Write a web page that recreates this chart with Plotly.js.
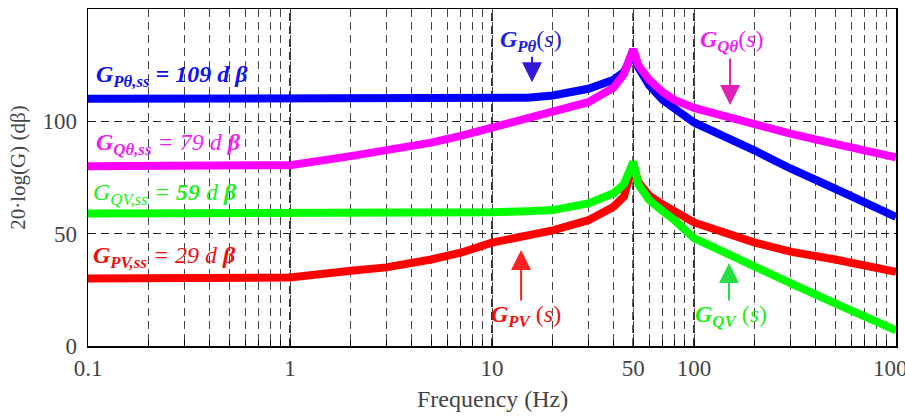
<!DOCTYPE html>
<html>
<head>
<meta charset="utf-8">
<script src="https://cdn.plot.ly/plotly-3.0.1.min.js"></script>
<style>html,body{margin:0;padding:0;background:#fff;}</style>
</head>
<body>
<div id="chart" style="width:905px;height:420px;"></div>
<script>
// Frequency points (Hz) and magnitude responses (dB)
const freq    = [0.1, 0.5, 1, 2, 3, 5, 7, 10, 15, 20, 30, 40, 45, 48, 50, 53, 60, 70, 80, 100, 200, 300, 500, 700, 1000];
const gPTheta = [110, 110, 110, 110, 110, 110, 110, 110, 110.5, 111.5, 114.5, 118.5, 122, 127, 132, 124, 116, 109.5, 105.5, 99.5, 87, 79, 70, 64, 57.5];
const gQTheta = [80, 80, 80.5, 84.5, 87, 90.5, 93.5, 97, 101, 104, 108.5, 115, 121, 128, 132, 125, 118.5, 113, 109.5, 106, 98.5, 94.5, 90, 87, 84];
const gPV     = [30, 30, 30.5, 33.5, 35, 38.5, 41.5, 46, 49.5, 51.5, 56, 62, 66.5, 75.5, 81, 73, 67, 63, 60, 55, 46, 42, 38.5, 36, 33];
const gQV     = [59, 59, 59, 59, 59, 59, 59, 59.5, 60, 60.5, 63.5, 68, 72, 77, 82, 72, 65, 60, 56, 48, 35, 28, 19, 13, 7];

// Axis ticks and titles
const decades = [0.1, 1, 10, 100];
const labeledTicks = [0.1, 1, 10, 50, 100, 1000];
const labeledText  = ['0.1', '1', '10', '50', '100', '1000'];
const yTicks = [0, 50, 100, 150];
const xTitle = 'Frequency (Hz)';
const yTitle = '20·log(G) (dβ)';

// Every 1..9 multiple within each decade gets a dashed grid line
const allTicks = [];
decades.forEach(d => { for (let m = 1; m <= 9; m++) allTicks.push(+(d * m).toPrecision(3)); });
allTicks.push(1000);
const allText = allTicks.map(v => {
  const i = labeledTicks.indexOf(v);
  return i >= 0 ? labeledText[i] : '';
});

const serif = '"Liberation Serif", "Times New Roman", serif';
const sp = '\u00a0';

const traceStyle = (color) => ({ color: color, width: 8 });
const traces = [
  { x: freq, y: gPV,     mode: 'lines', line: traceStyle('#ff0000'), name: 'G_PV' },
  { x: freq, y: gQV,     mode: 'lines', line: traceStyle('#00ff00'), name: 'G_QV' },
  { x: freq, y: gPTheta, mode: 'lines', line: traceStyle('#0000ff'), name: 'G_Pθ' },
  { x: freq, y: gQTheta, mode: 'lines', line: traceStyle('#ff00ff'), name: 'G_Qθ' }
];

// Darker dashed lines at the labelled frequencies
const majorLines = labeledTicks.filter(v => v > 0.1 && v < 1000).map(v => ({
  type: 'line', xref: 'x', yref: 'paper', x0: v, x1: v, y0: 0, y1: 1,
  line: { color: '#000', width: 1.6, dash: '8px,5px' }, layer: 'below'
}));

const lbl = (text, x, y, color, anchor, size) => ({
  text: text, xref: 'paper', yref: 'paper', x: x, y: y,
  xanchor: anchor || 'left', yanchor: 'middle', showarrow: false,
  font: { family: serif, size: size || 24, color: color }
});
const arrow = (x, y, ay, color) => ({
  text: '', xref: 'paper', yref: 'paper', x: x, y: y, ax: 0, ay: ay,
  showarrow: true, arrowhead: 2, arrowsize: 2, arrowwidth: 2, arrowcolor: color
});

const annotations = [
  lbl('<b><i>G<sub>Pθ,ss</sub>' + sp + '=' + sp + '109' + sp + 'd' + sp + 'β</i></b>', 0.008, 0.80, '#1010f0'),
  lbl('<b><i>G<sub>Qθ,ss</sub></i></b><i>' + sp + '=' + sp + '79' + sp + 'd' + sp + '</i><b><i>β</i></b>', 0.008, 0.60, '#ee22ee'),
  lbl('<i>G<sub>QV,ss</sub>' + sp + '=' + sp + '<b>59</b>' + sp + 'd' + sp + '</i><b><i>β</i></b>', 0.004, 0.452, '#22ee22'),
  lbl('<b><i>G<sub>PV,ss</sub></i></b><i>' + sp + '=' + sp + '29' + sp + 'd' + sp + '</i><b><i>β</i></b>', 0.004, 0.263, '#ee1111'),

  lbl('<b><i>G<sub>Pθ</sub></i></b>(<i>s</i>)', 0.548, 0.905, '#2020e0', 'center'),
  lbl('<b><i>G<sub>Qθ</sub></i></b>(<i>s</i>)', 0.797, 0.905, '#ee22ee', 'center'),
  lbl('<b><i>G<sub>PV</sub></i></b>' + sp + '(<i>s</i>)', 0.542, 0.088, '#ee1111', 'center'),
  lbl('<b><i>G<sub>QV</sub></i></b>' + sp + '(<i>s</i>)', 0.796, 0.088, '#22ee22', 'center'),

  arrow(0.5495, 0.783, -27, '#3318d8'),
  arrow(0.7946, 0.715, -48, '#e020b8'),
  arrow(0.536, 0.285, 52, '#ff2020'),
  arrow(0.7933, 0.246, 39, '#22e040'),

  // axis titles
  { text: xTitle, xref: 'paper', yref: 'paper', x: 0.5, y: -0.157, xanchor: 'center', yanchor: 'middle',
    showarrow: false, font: { family: serif, size: 24, color: '#444' } },
  { text: yTitle, xref: 'paper', yref: 'paper', x: -0.087, y: 0.528, xanchor: 'center', yanchor: 'middle',
    textangle: -90, showarrow: false, font: { family: serif, size: 21, color: '#444' } }
];

const layout = {
  width: 905, height: 420,
  margin: { l: 88, r: 9, t: 9, b: 74 },
  paper_bgcolor: '#fff', plot_bgcolor: '#fff',
  showlegend: false,
  font: { family: serif, color: '#444' },
  xaxis: {
    type: 'log', range: [-1, 3],
    tickmode: 'array', tickvals: allTicks, ticktext: allText,
    ticks: 'inside', ticklen: 6, tickcolor: '#000', tickwidth: 1,
    ticklabelstandoff: 1, ticklabeloverflow: 'allow',
    showgrid: true, gridcolor: '#444', gridwidth: 1, griddash: '8px,5px',
    showline: true, linecolor: '#000', linewidth: 1.5, mirror: true,
    zeroline: false,
    tickfont: { family: serif, size: 23, color: '#444' }
  },
  yaxis: {
    range: [0, 150],
    tickmode: 'array', tickvals: yTicks,
    ticks: '', showgrid: true, gridcolor: '#222', gridwidth: 1, griddash: '8px,5px',
    showline: true, linecolor: '#000', linewidth: 1.5, mirror: true,
    zeroline: false, ticklabelstandoff: 5,
    tickfont: { family: serif, size: 23, color: '#444' }
  },
  shapes: majorLines,
  annotations: annotations
};

Plotly.newPlot('chart', traces, layout, { staticPlot: true, displayModeBar: false });
</script>
</body>
</html>
